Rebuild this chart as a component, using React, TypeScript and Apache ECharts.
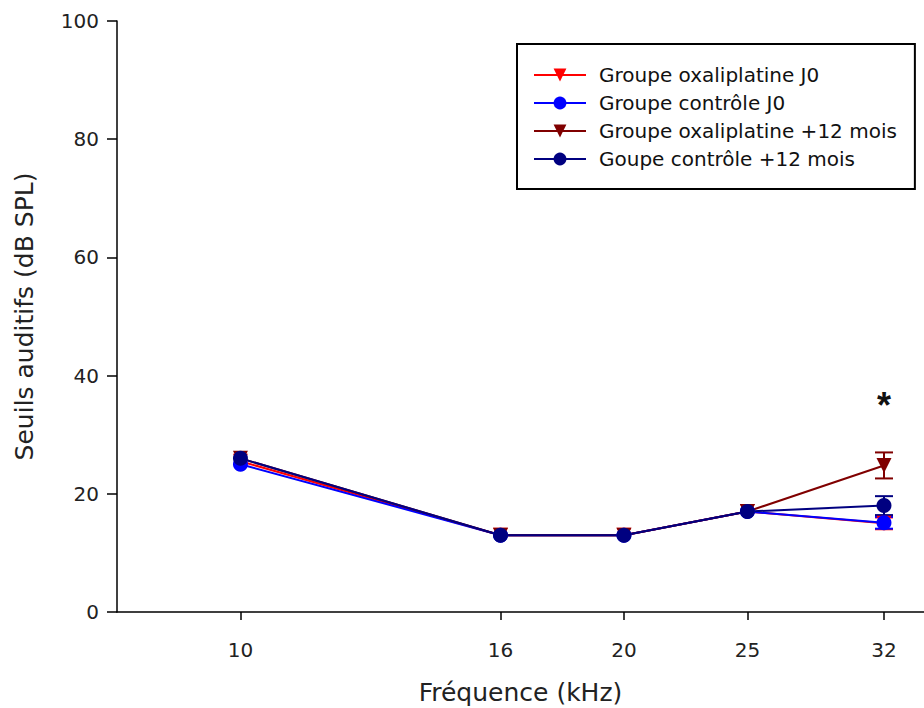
import React, { useEffect, useRef } from "react";
import * as echarts from "echarts";

const freqs = [10, 16, 20, 25, 32];
const oxaJ0 = [25.5, 13, 13, 17, 15];
const ctrlJ0 = [25, 13, 13, 17, 15.1];
const oxa12 = [26, 13, 13, 17, 24.8];
const ctrl12 = [26, 13, 13, 17, 18];
const oxaJ0Err = [0, 0, 0, 0, 1.0];
const ctrlJ0Err = [0, 0, 0, 0, 1.0];
const oxa12Err = [0, 0, 0, 0, 2.2];
const ctrl12Err = [0, 0, 0, 0, 1.6];
const yTicks = [0, 20, 40, 60, 80, 100];
const names = [
  "Groupe oxaliplatine J0",
  "Groupe contrôle J0",
  "Groupe oxaliplatine +12 mois",
  "Goupe contrôle +12 mois",
];
const colors = ["#ff0000", "#0000ff", "#800000", "#000080"];
const symbols = ["triangle", "circle", "triangle", "circle"];
const values = [oxaJ0, ctrlJ0, oxa12, ctrl12];
const errs = [oxaJ0Err, ctrlJ0Err, oxa12Err, ctrl12Err];
const starPoint = { x: 32, y: 35, label: "*" };

const FONT = "'DejaVu Sans', sans-serif";

export default function App() {
  const ref = useRef<HTMLDivElement>(null);
  useEffect(() => {
    const chart = echarts.init(ref.current!, null, { renderer: "svg" });
    const errSeries = values.map((vals, i) => ({
      type: "custom",
      name: "err" + i,
      silent: true,
      data: freqs.map((f, j) => [f, vals[j] - errs[i][j], vals[j] + errs[i][j]]),
      encode: { x: 0, y: [1, 2] },
      renderItem: (params: any, api: any) => {
        const x = api.value(0);
        if (api.value(2) - api.value(1) <= 0) return { type: "group", children: [] };
        const lo = api.coord([x, api.value(1)]);
        const hi = api.coord([x, api.value(2)]);
        const hw = 9;
        const st = { stroke: colors[i], lineWidth: 2, fill: "none" };
        return {
          type: "group",
          children: [
            { type: "line", shape: { x1: lo[0], y1: lo[1], x2: hi[0], y2: hi[1] }, style: st },
            { type: "line", shape: { x1: lo[0] - hw, y1: lo[1], x2: lo[0] + hw, y2: lo[1] }, style: st },
            { type: "line", shape: { x1: hi[0] - hw, y1: hi[1], x2: hi[0] + hw, y2: hi[1] }, style: st },
          ],
        };
      },
      z: 1,
    }));
    const lineSeries = values.map((vals, i) => ({
      type: "line",
      name: names[i],
      data: freqs.map((f, j) => [f, vals[j]]),
      symbol: symbols[i],
      symbolRotate: symbols[i] === "triangle" ? 180 : 0,
      symbolSize: 15,
      itemStyle: { color: colors[i] },
      lineStyle: { color: colors[i], width: 2 },
      z: 2,
      ...(i === 2
        ? {
            markPoint: {
              symbol: "circle",
              symbolSize: 0,
              data: [{ coord: [starPoint.x, starPoint.y], value: starPoint.label }],
              label: {
                show: true,
                position: "inside",
                formatter: starPoint.label,
                fontSize: 36,
                fontWeight: "bold",
                fontFamily: "'Liberation Sans', Arial, sans-serif",
                color: "#111",
              },
            },
          }
        : {}),
    }));
    chart.setOption({
      animation: false,
      backgroundColor: "#ffffff",
      grid: { left: 117, right: 0, top: 21, bottom: 96, outerBoundsMode: "none", containLabel: false },
      legend: {
        data: names,
        orient: "vertical",
        left: 517,
        top: 44,
        padding: [21, 18, 20, 16],
        itemGap: 8,
        itemWidth: 52,
        itemHeight: 16,
        borderColor: "#000",
        borderWidth: 2,
        textStyle: { fontFamily: FONT, fontSize: 20, color: "#111", padding: [0, 0, 0, 8] },
      },
      xAxis: {
        type: "log",
        logBase: 10,
        min: 8,
        max: 34.4,
        name: "Fréquence (kHz)",
        nameLocation: "middle",
        nameGap: 68,
        nameTextStyle: { fontFamily: FONT, fontSize: 25, color: "#222" },
        axisLine: { show: true, lineStyle: { color: "#000", width: 1.5 } },
        axisTick: { show: true, customValues: freqs, length: 8, lineStyle: { color: "#000", width: 1.5 } },
        axisLabel: { customValues: freqs, margin: 28, fontFamily: FONT, fontSize: 20, color: "#222" },
        splitLine: { show: false },
        minorTick: { show: false },
      },
      yAxis: {
        type: "value",
        min: yTicks[0],
        max: yTicks[yTicks.length - 1],
        interval: 20,
        name: "Seuils auditifs (dB SPL)",
        nameLocation: "middle",
        nameGap: 80,
        nameTextStyle: { fontFamily: FONT, fontSize: 25, color: "#222" },
        axisLine: { show: true, lineStyle: { color: "#000", width: 1.5 } },
        axisTick: { show: true, length: 10, lineStyle: { color: "#000", width: 1.5 } },
        axisLabel: { margin: 18, fontFamily: FONT, fontSize: 20, color: "#222" },
        splitLine: { show: false },
      },
      series: [...errSeries, ...lineSeries],
    });
    return () => chart.dispose();
  }, []);
  return <div ref={ref} style={{ width: 924, height: 708, position: "absolute", left: 0, top: 0 }} />;
}
